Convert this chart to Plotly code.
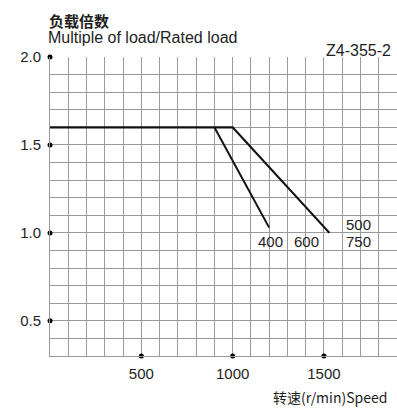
import plotly.graph_objects as go

# Data
speed_main = [0, 1000, 1530]
load_main = [1.6, 1.6, 1.0]
speed_branch = [900, 1200]
load_branch = [1.6, 1.03]

y_ticks = [0.5, 1.0, 1.5, 2.0]
y_ticktext = ["0.5", "1.0", "1.5", "2.0"]
x_ticks = [500, 1000, 1500]
x_ticktext = ["500", "1000", "1500"]

curve_labels = ["400", "600", "500", "750"]
curve_label_x = [1205, 1405, 1690, 1690]
curve_label_y = [0.95, 0.95, 1.045, 0.95]

FONT = "Liberation Sans, Arial, sans-serif"
CJK = "Noto Sans CJK SC, Liberation Sans, sans-serif"
GRID = "#9a9a9a"
TXT = "#1e1e1e"

fig = go.Figure()

fig.add_trace(go.Scatter(x=speed_main, y=load_main, mode="lines",
                         line=dict(color="#111", width=2.2), showlegend=False,
                         hoverinfo="skip"))
fig.add_trace(go.Scatter(x=speed_branch, y=load_branch, mode="lines",
                         line=dict(color="#111", width=2.0), showlegend=False,
                         hoverinfo="skip"))

# tick dots
fig.add_trace(go.Scatter(x=[0] * len(y_ticks), y=y_ticks, mode="markers",
                         marker=dict(color="#000", size=5), cliponaxis=False,
                         showlegend=False, hoverinfo="skip"))
fig.add_trace(go.Scatter(x=x_ticks, y=[0.3] * len(x_ticks), mode="markers",
                         marker=dict(color="#000", size=5), cliponaxis=False,
                         showlegend=False, hoverinfo="skip"))

for t, x, y in zip(curve_labels, curve_label_x, curve_label_y):
    fig.add_annotation(x=x, y=y, text=t, showarrow=False,
                       font=dict(family=FONT, size=15, color=TXT),
                       xanchor="center", yanchor="middle")

fig.add_annotation(xref="paper", yref="paper", x=-0.01, y=1.0 + 37 / 299,
                   text="负载倍数", showarrow=False, xanchor="left", yanchor="middle",
                   font=dict(family=CJK, size=15, color=TXT, weight="bold"))
fig.add_annotation(xref="paper", yref="paper", x=-0.012, y=1.0 + 20 / 299,
                   text="Multiple of load/Rated load", showarrow=False,
                   xanchor="left", yanchor="middle",
                   font=dict(family=FONT, size=16, color=TXT))
fig.add_annotation(xref="paper", yref="paper", x=(393 - 50) / 347, y=1.0 + 7 / 299,
                   text="Z4-355-2", showarrow=False, xanchor="right", yanchor="middle",
                   font=dict(family=FONT, size=16, color=TXT))
fig.add_annotation(xref="paper", yref="paper", x=(271 - 50) / 347, y=-(398 - 356.7) / 299,
                   text="转速(r/min)Speed", showarrow=False, xanchor="left",
                   yanchor="middle",
                   font=dict(family=CJK, size=14, color=TXT))

fig.update_xaxes(range=[0, 1900], tickvals=x_ticks, ticktext=x_ticktext,
                 showgrid=True, gridcolor=GRID, gridwidth=1,
                 minor=dict(dtick=100, tick0=0, showgrid=True, gridcolor=GRID, gridwidth=1),
                 showline=True, linecolor=GRID, linewidth=1, zeroline=False,
                 ticks="", ticklabelstandoff=4,
                 tickfont=dict(family=FONT, size=15, color=TXT), fixedrange=True)
fig.update_yaxes(range=[0.3, 2.0], tickvals=y_ticks, ticktext=y_ticktext,
                 showgrid=True, gridcolor=GRID, gridwidth=1,
                 minor=dict(dtick=0.1, tick0=0, showgrid=True, gridcolor=GRID, gridwidth=1),
                 showline=True, linecolor=GRID, linewidth=1, zeroline=False,
                 ticks="", ticklabelstandoff=5,
                 tickfont=dict(family=FONT, size=15, color=TXT), fixedrange=True)

fig.update_layout(width=397, height=411,
                  margin=dict(l=50, r=0, t=57, b=55),
                  paper_bgcolor="white", plot_bgcolor="white",
                  showlegend=False)

fig.write_html("out.html", config={"displayModeBar": False},
               post_script="document.body.style.margin='0';document.body.style.overflow='hidden';")
